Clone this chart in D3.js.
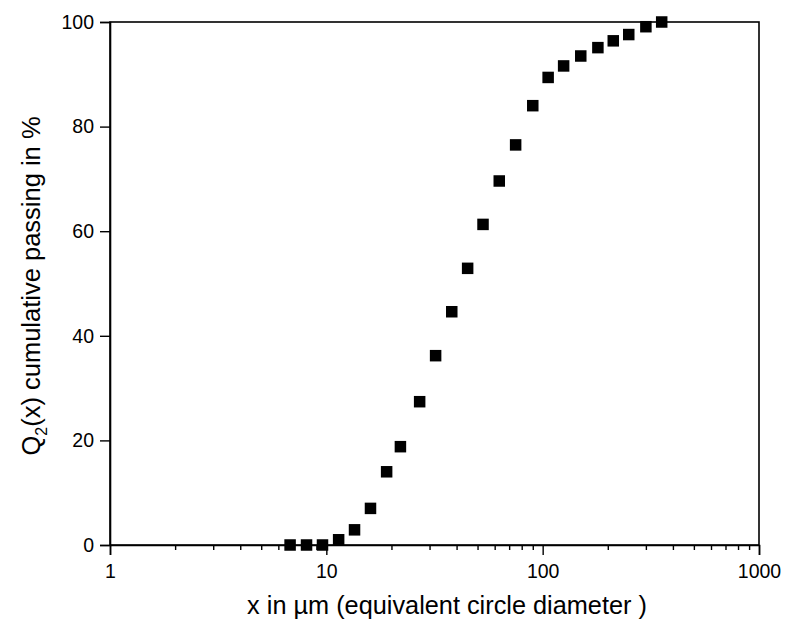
<!DOCTYPE html>
<html>
<head>
<meta charset="utf-8">
<script src="https://cdn.jsdelivr.net/npm/d3@7"></script>
<style>
  body { margin: 0; background: #fff; }
  svg text { font-family: Arial, "Liberation Sans", sans-serif; fill: #000; }
</style>
</head>
<body>
<svg id="chart"></svg>
<script>
// particle size (µm) and cumulative passing Q2 (%)
const sizes = [6.8, 8.1, 9.6, 11.4, 13.5, 16, 19, 22, 27, 32, 38, 45, 53, 63, 75, 90, 106, 125, 150, 180, 212, 250, 300, 355];
const passing = [0, 0, 0, 1, 2.9, 7, 14, 18.8, 27.4, 36.2, 44.6, 52.9, 61.3, 69.6, 76.5, 84, 89.4, 91.6, 93.5, 95.1, 96.4, 97.6, 99.1, 100];
const xTicks = [1, 10, 100, 1000];
const yTicks = [0, 20, 40, 60, 80, 100];

var width = 785;
var height = 624;
var margin = { top: 22, right: 26, bottom: 79, left: 110 };

var svg = d3.select('#chart').attr('width', width).attr('height', height);

var x = d3.scaleLog().domain([1, 1000]).range([margin.left, width - margin.right]);
var y = d3.scaleLinear().domain([0, 100]).range([height - margin.bottom, margin.top]);

// frame
svg.append('rect')
  .attr('x', margin.left)
  .attr('y', margin.top)
  .attr('width', width - margin.left - margin.right)
  .attr('height', height - margin.top - margin.bottom)
  .attr('fill', 'none')
  .attr('stroke', '#000')
  .attr('stroke-width', 1.6);

// x axis with minor ticks
var minor = [];
for (let d = 1; d < 1000; d *= 10) {
  for (let k = 2; k <= 9; k++) minor.push(d * k);
}

var xAxis = svg.append('g')
  .attr('transform', 'translate(0,' + y(0) + ')')
  .call(d3.axisBottom(x).tickValues(xTicks).tickFormat(d3.format('d')).tickSize(10).tickPadding(9));

svg.append('g')
  .attr('transform', 'translate(0,' + y(0) + ')')
  .call(d3.axisBottom(x).tickValues(minor).tickFormat('').tickSize(5))
  .call(g => g.select('.domain').remove());

var yAxis = svg.append('g')
  .attr('transform', 'translate(' + margin.left + ',0)')
  .call(d3.axisLeft(y).tickValues(yTicks).tickSize(10).tickPadding(6));

svg.selectAll('.domain').attr('stroke-width', 1.6);
svg.selectAll('.tick line').attr('stroke', '#000').attr('stroke-width', 1.4);
svg.selectAll('.tick text').style('font-size', '19.5px').attr('fill', '#000');

// points
svg.append('g')
  .selectAll('rect')
  .data(sizes)
  .enter()
  .append('rect')
  .attr('x', function (d) { return x(d) - 5.75; })
  .attr('y', function (d, i) { return y(passing[i]) - 5.75; })
  .attr('width', 11.5)
  .attr('height', 11.5)
  .attr('fill', '#000');

// axis titles
svg.append('text')
  .attr('x', 447)
  .attr('y', 614)
  .attr('text-anchor', 'middle')
  .style('font-size', '25.3px')
  .text('x in µm (equivalent circle diameter )');

var yTitle = svg.append('text')
  .attr('transform', 'translate(40,' + 286 + ') rotate(-90)')
  .attr('text-anchor', 'middle')
  .style('font-size', '25.5px');
yTitle.append('tspan').text('Q');
yTitle.append('tspan').attr('dy', 7).style('font-size', '16px').text('2');
yTitle.append('tspan').attr('dy', -7).text('(x) cumulative passing in %');
</script>
</body>
</html>
